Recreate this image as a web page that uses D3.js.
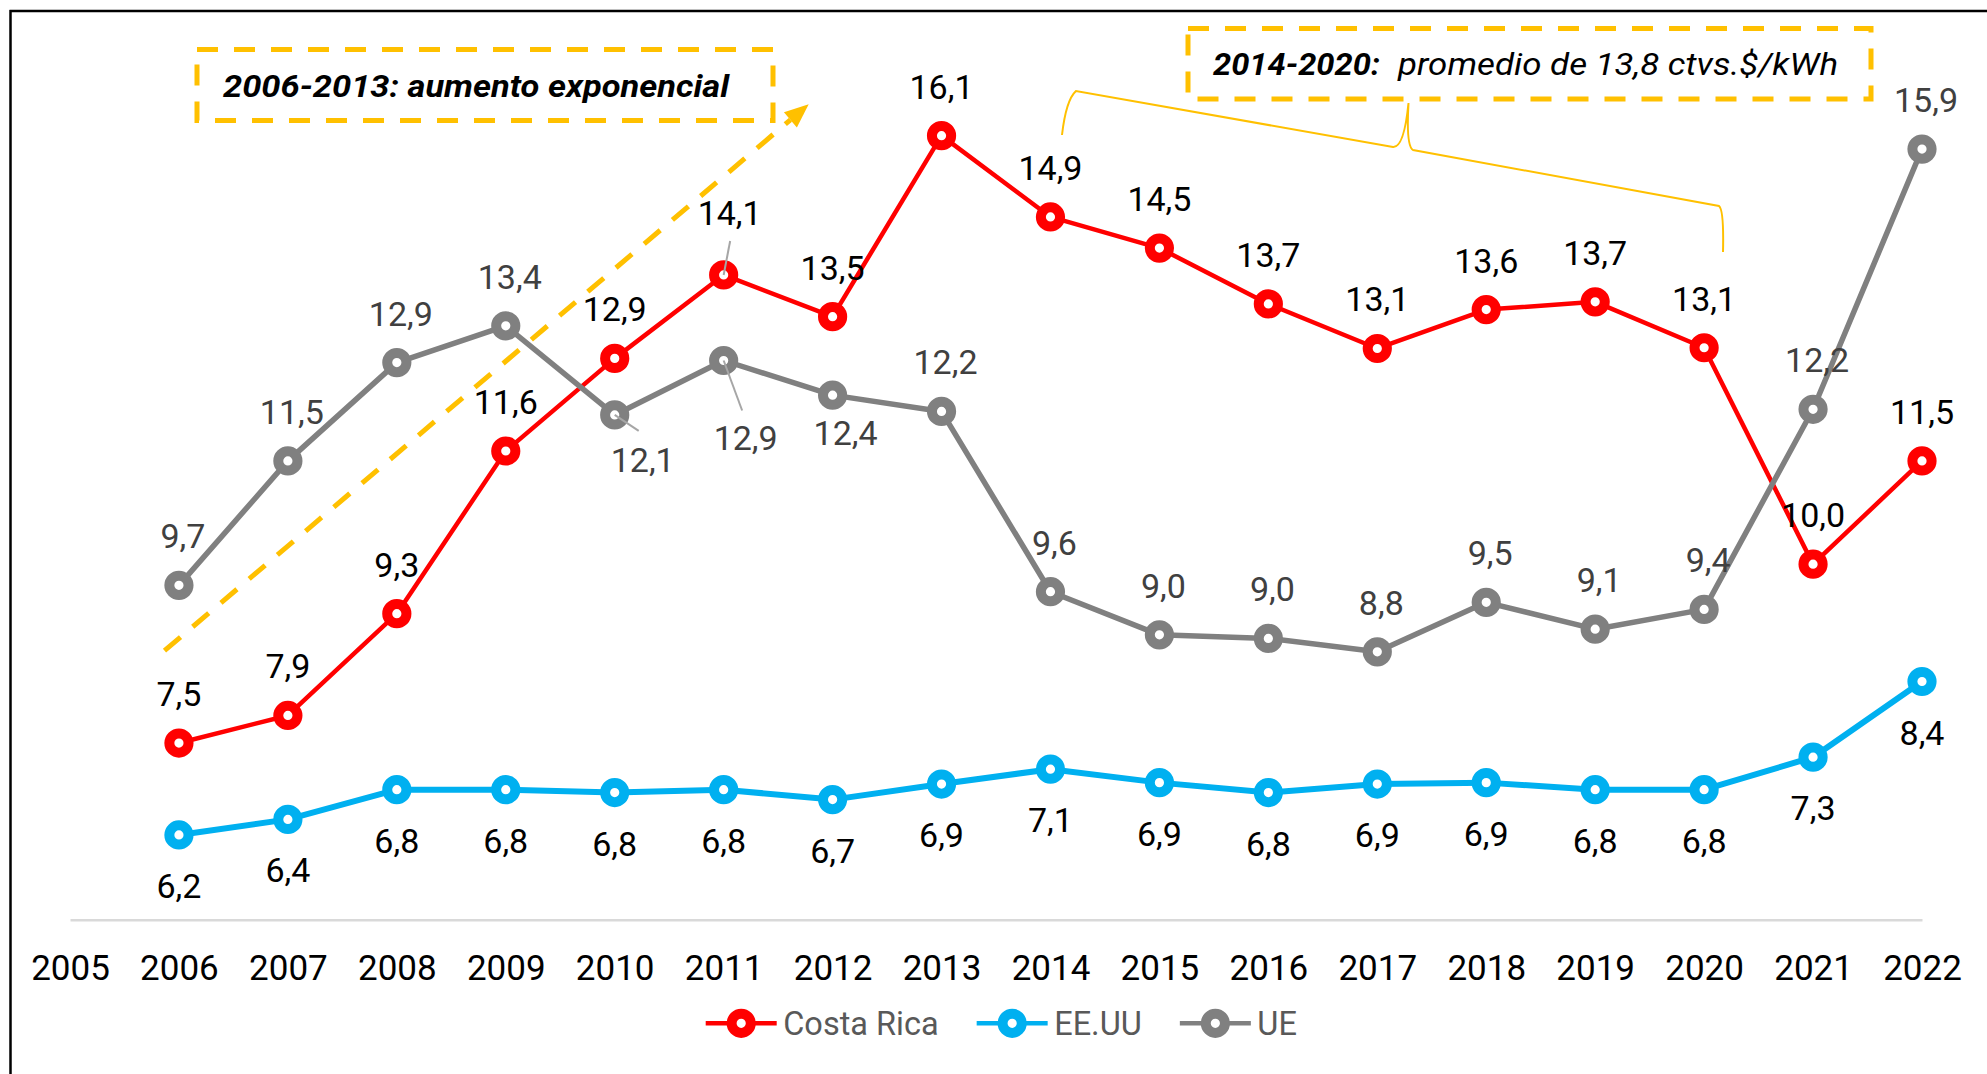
<!DOCTYPE html>
<html><head><meta charset="utf-8">
<script src="https://cdn.jsdelivr.net/npm/d3@7"></script>
<style>
html,body{margin:0;padding:0;background:#fff;}
svg{display:block;font-family:Roboto,"Open Sans",sans-serif;}
</style></head><body>
<svg id="chart" width="1987" height="1074"></svg>
<script>
// ---------------- data (labels show one decimal) ----------------
const years = [2006,2007,2008,2009,2010,2011,2012,2013,2014,2015,2016,2017,2018,2019,2020,2021,2022];
const axisYears = [2005,2006,2007,2008,2009,2010,2011,2012,2013,2014,2015,2016,2017,2018,2019,2020,2021,2022];
const costaRica = [7.5,7.89,9.33,11.63,12.94,14.12,13.53,16.09,14.94,14.5,13.71,13.08,13.63,13.74,13.09,10.03,11.49];
const eeuu      = [6.2,6.42,6.84,6.84,6.8,6.84,6.7,6.92,7.13,6.94,6.8,6.92,6.94,6.84,6.84,7.3,8.37];
const ue        = [9.73,11.49,12.88,13.4,12.14,12.91,12.42,12.19,9.64,9.03,8.98,8.79,9.49,9.11,9.39,12.22,15.9];
const seriesNames = ["Costa Rica","EE.UU","UE"];
const yDomain = [5,17];
const note1 = "2006-2013: aumento exponencial";
const note2Bold = "2014-2020:";
const note2Text = "promedio de 13,8 ctvs.$/kWh";

// ---------------- styles / layout ----------------
const colors = ["#FF0000","#00B0F0","#808080"];
const lineWidths = [4.5,6,5.5];
const labelColors = ["#000000","#000000","#404040"];
const labelOffsets = [{dx:0,dy:-37},{dx:0,dy:63},{dx:4,dy:-37}];
const labelOverrides = [
  {s:0, year:2011, dx:6,  dy:-50, leader:{x1:6.5,y1:-34,x2:0,y2:0}},
  {s:2, year:2010, dx:28, dy:57,  leader:{x1:0,y1:0,x2:24,y2:16}},
  {s:2, year:2011, dx:22, dy:90,  leader:{x1:0,y1:0,x2:18.5,y2:50}},
  {s:2, year:2012, dx:13, dy:50}
];
const gold = "#FFC000";

const svg = d3.select("#chart");
const x = d3.scalePoint().domain(axisYears).range([70,1922]);
const y = d3.scaleLinear().domain(yDomain).range([919.8,71.3]);
const fmt = v => d3.format(".1f")(v).replace(".", ",");

// frame (top & left edges visible)
svg.append("path").attr("d","M9.5,11H1987M10.5,10V1074")
  .attr("fill","none").attr("stroke","#000").attr("stroke-width",2.5);

// x axis
const axis = svg.append("g").attr("transform",`translate(0,${y(yDomain[0])})`)
  .call(d3.axisBottom(x).tickSize(0).tickSizeOuter(0).tickPadding(35));
axis.select(".domain").attr("stroke","#D9D9D9").attr("stroke-width",2.5);
axis.selectAll("text").attr("font-size",35).attr("fill","#000")
  .attr("font-family","Roboto,'Open Sans',sans-serif");

// series
const allSeries = [costaRica, eeuu, ue];
const lineGen = d3.line().x((d,i)=>x(years[i])).y(d=>y(d));
allSeries.forEach((vals,s)=>{
  const g = svg.append("g");
  g.append("path").attr("d",lineGen(vals)).attr("fill","none")
    .attr("stroke",colors[s]).attr("stroke-width",lineWidths[s]).attr("stroke-linejoin","round");
  g.selectAll("circle").data(vals).join("circle")
    .attr("cx",(d,i)=>x(years[i])).attr("cy",d=>y(d)).attr("r",9.6)
    .attr("fill","#fff").attr("stroke",colors[s]).attr("stroke-width",10);
});

// data labels
allSeries.forEach((vals,s)=>{
  vals.forEach((v,i)=>{
    const ov = labelOverrides.find(o=>o.s===s && o.year===years[i]);
    const off = ov || labelOffsets[s];
    const px = x(years[i]), py = y(v);
    svg.append("text").attr("x",px+off.dx).attr("y",py+off.dy)
      .attr("text-anchor","middle").attr("font-size",34).attr("fill",labelColors[s]).text(fmt(v));
    if (ov && ov.leader) {
      const L = ov.leader;
      svg.append("line").attr("x1",px+L.x1).attr("y1",py+L.y1).attr("x2",px+L.x2).attr("y2",py+L.y2)
        .attr("stroke","#A6A6A6").attr("stroke-width",2);
    }
  });
});

// legend
let lx = 705.7; const ly = 1023.3;
seriesNames.forEach((name,s)=>{
  const g = svg.append("g");
  g.append("line").attr("x1",lx).attr("x2",lx+71).attr("y1",ly).attr("y2",ly)
    .attr("stroke",colors[s]).attr("stroke-width",4.5);
  g.append("circle").attr("cx",lx+35.5).attr("cy",ly).attr("r",9.6)
    .attr("fill","#fff").attr("stroke",colors[s]).attr("stroke-width",10);
  const t = g.append("text").attr("x",lx+77.5).attr("y",ly+11.7).attr("font-size",32.5)
    .attr("fill","#595959").text(name);
  lx = lx + 77.5 + t.node().getComputedTextLength() + 38;
});

// annotation 1 : box + dashed arrow
svg.append("rect").attr("x",197).attr("y",49.5).attr("width",576).attr("height",71)
  .attr("fill","none").attr("stroke",gold).attr("stroke-width",5).attr("stroke-dasharray","21,16");
svg.append("text").attr("x",223).attr("y",96.5).attr("font-size",32).attr("font-weight","bold")
  .attr("font-style","italic").attr("fill","#000").attr("textLength",506)
  .attr("lengthAdjust","spacingAndGlyphs").text(note1);
{
  const x0=164.5,y0=650.7,x1=808.7,y1=104.3;
  const ang=Math.atan2(y1-y0,x1-x0), hl=24, hw=10;
  const bx=x1-hl*Math.cos(ang), by=y1-hl*Math.sin(ang);
  svg.append("line").attr("x1",x0).attr("y1",y0).attr("x2",bx).attr("y2",by)
    .attr("stroke",gold).attr("stroke-width",5).attr("stroke-dasharray","21,16");
  const px=-Math.sin(ang), py=Math.cos(ang);
  svg.append("path").attr("d",`M${x1},${y1}L${bx+hw*px},${by+hw*py}L${bx-hw*px},${by-hw*py}Z`).attr("fill",gold);
}

// annotation 2 : box + brace
svg.append("rect").attr("x",1188).attr("y",28.5).attr("width",683).attr("height",70.5)
  .attr("fill","none").attr("stroke",gold).attr("stroke-width",5).attr("stroke-dasharray","21,16");
svg.append("text").attr("x",1213).attr("y",75).attr("font-size",32).attr("font-weight","bold")
  .attr("font-style","italic").attr("fill","#000").attr("textLength",167)
  .attr("lengthAdjust","spacingAndGlyphs").text(note2Bold);
svg.append("text").attr("x",1398).attr("y",75).attr("font-size",32)
  .attr("font-style","italic").attr("fill","#000").attr("textLength",440)
  .attr("lengthAdjust","spacingAndGlyphs").text(note2Text);
svg.append("path")
  .attr("d","M1062,135Q1066,100 1076,91L1393,147Q1404,148 1408.5,103Q1406,146 1413,150L1719,206Q1724,210 1723,252")
  .attr("fill","none").attr("stroke",gold).attr("stroke-width",2);
</script>
</body></html>
